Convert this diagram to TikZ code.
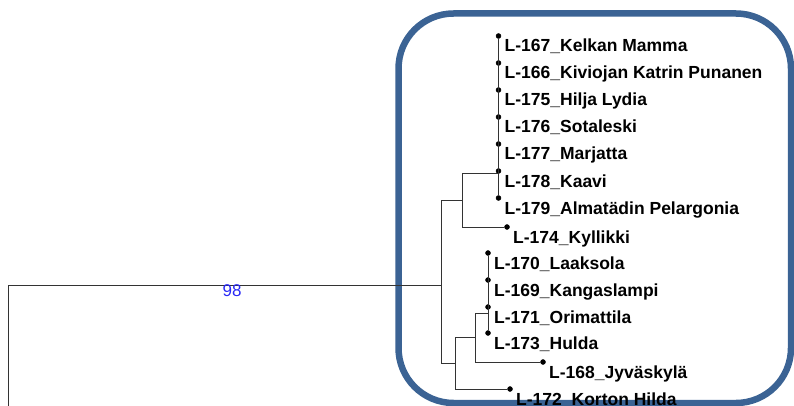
\documentclass[tikz,border=0pt]{standalone}
\usepackage{fontspec}
\setmainfont{Liberation Sans}
\usepackage{tikz}
\usetikzlibrary{positioning, calc}
\definecolor{boxblue}{RGB}{59,99,148}
\definecolor{bootblue}{RGB}{40,40,245}
\tikzset{leafdot/.style={circle, draw=black, fill=black, inner sep=0pt, minimum size=5pt},
  taxon/.style={anchor=base west, inner sep=0pt, font=\fontsize{17.5}{20}\selectfont\bfseries},
  branch/.style={draw=black!80, line width=1pt}}

\begin{document}
\begin{tikzpicture}[x=1pt,y=-1pt]
                 \useasboundingbox (0,0) rectangle (794,406);
                 \draw[boxblue, line width=6.5pt, rounded corners=55pt](398.5,13.5) rectangle (791,403);

                 \coordinate (n0) at (8,420);
                 \coordinate (n1) at (441,285);
                 \coordinate (n2) at (462,200);
                 \coordinate (n3) at (498.5,173);
                 \coordinate (n4) at (455,363);
                 \coordinate (n5) at (475,337);
                 \coordinate (n6) at (488,313);

                 \node[leafdot] (l167) at (498.5,36) {};
                 \node[leafdot] (l166) at (498.5,63) {};
                 \node[leafdot] (l175) at (498.5,90) {};
                 \node[leafdot] (l176) at (498.5,117) {};
                 \node[leafdot] (l177) at (498.5,144) {};
                 \node[leafdot] (l178) at (498.5,171) {};
                 \node[leafdot] (l179) at (498.5,198) {};
                 \node[leafdot] (l174) at (507,227) {};
                 \node[leafdot] (l170) at (488,253) {};
                 \node[leafdot] (l169) at (488,280) {};
                 \node[leafdot] (l171) at (488,307) {};
                 \node[leafdot] (l173) at (488,333) {};
                 \node[leafdot] (l168) at (543,362) {};
                 \node[leafdot] (l172) at (510,389) {};

                 \draw[branch](n0) |- (n1);
                 \draw[branch](n1) |- (n2);
                 \draw[branch](n1) |- (n4);
                 \draw[branch](n2) |- (n3);
                 \draw[branch](n2) |- (l174);
                 \draw[branch](l167) -- (l179);
                 \draw[branch](n4) |- (n5);
                 \draw[branch](n4) |- (l172);
                 \draw[branch](n5) |- (n6);
                 \draw[branch](n5) |- (l168);
                 \draw[branch](l170) -- (l173);

                 \node[font=\fontsize{17}{20}\selectfont, text=bootblue, anchor=base] (b98) at (232,296) {98};

                 \node[taxon] (t167) at ($(l167)+(6,16)$) {L-167\_Kelkan Mamma};
                 \node[taxon] (t166) at ($(l166)+(6,16)$) {L-166\_Kiviojan Katrin Punanen};
                 \node[taxon] (t175) at ($(l175)+(6,16)$) {L-175\_Hilja Lydia};
                 \node[taxon] (t176) at ($(l176)+(6,16)$) {L-176\_Sotaleski};
                 \node[taxon] (t177) at ($(l177)+(6,16)$) {L-177\_Marjatta};
                 \node[taxon] (t178) at ($(l178)+(6,16)$) {L-178\_Kaavi};
                 \node[taxon] (t179) at ($(l179)+(6,16)$) {L-179\_Almatädin Pelargonia};
                 \node[taxon] (t174) at ($(l174)+(6,16)$) {L-174\_Kyllikki};
                 \node[taxon] (t170) at ($(l170)+(6,16)$) {L-170\_Laaksola};
                 \node[taxon] (t169) at ($(l169)+(6,16)$) {L-169\_Kangaslampi};
                 \node[taxon] (t171) at ($(l171)+(6,16)$) {L-171\_Orimattila};
                 \node[taxon] (t173) at ($(l173)+(6,16)$) {L-173\_Hulda};
                 \node[taxon] (t168) at ($(l168)+(6,16)$) {L-168\_Jyväskylä};
                 \node[taxon] (t172) at ($(l172)+(6,16)$) {L-172\_Korton Hilda};
             \end{tikzpicture}
\end{document}
